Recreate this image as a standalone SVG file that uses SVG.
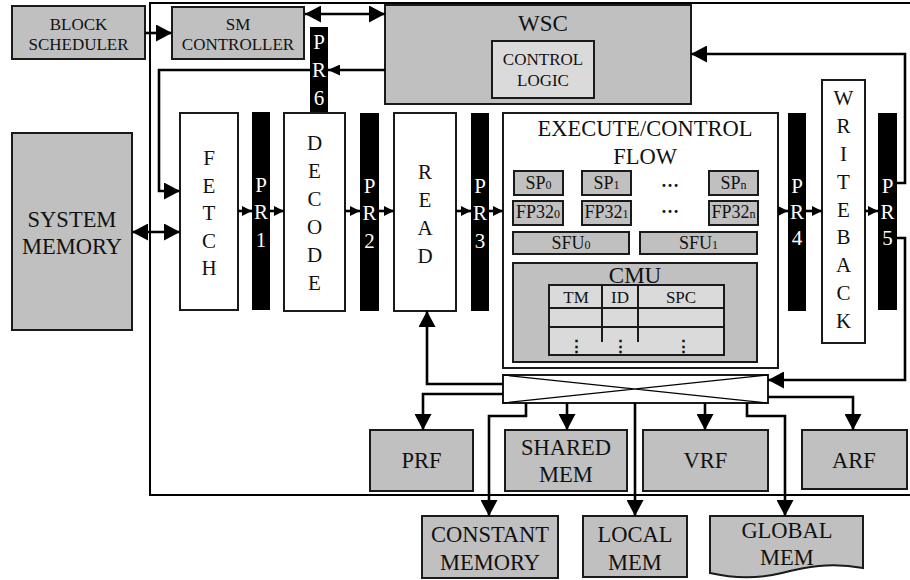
<svg xmlns="http://www.w3.org/2000/svg" width="910" height="580" viewBox="0 0 910 580" font-family="'Liberation Serif', 'DejaVu Serif', 'Noto Serif', serif">
<style>
.g{fill:#c0c0c0;stroke:#1a1a1a;stroke-width:2}
.w{fill:#fff;stroke:#1a1a1a;stroke-width:2}
.l{fill:#dadada;stroke:#1a1a1a;stroke-width:2}
.pr{fill:#000}
text{fill:#111;text-anchor:middle}
.t17{font-size:17px}
.t18{font-size:18px}
.t22{font-size:22.5px}
.v{font-size:21px}
.pw{font-size:21px;fill:#fff}
.sub{font-size:12px}
.vd{font-size:17px;font-weight:bold}
.c{fill:none;stroke:#000;stroke-width:2.6}
.x{fill:none;stroke:#000;stroke-width:1.2}
</style>
<defs>
<marker id="A" markerUnits="userSpaceOnUse" markerWidth="16" markerHeight="17" refX="16" refY="8.5" orient="auto-start-reverse"><path d="M0,0L16,8.5L0,17z"/></marker>
<marker id="M" markerUnits="userSpaceOnUse" markerWidth="12" markerHeight="11" refX="12" refY="5.5" orient="auto-start-reverse"><path d="M0,0L12,5.5L0,11z"/></marker>
<marker id="S" markerUnits="userSpaceOnUse" markerWidth="10" markerHeight="10" refX="10" refY="5" orient="auto-start-reverse"><path d="M0,0L10,5L0,10z"/></marker>
</defs>

<path id="frame" d="M912,3H150V495H912" fill="none" stroke="#000" stroke-width="2"/>

<g id="block-scheduler"><rect class="g" x="12" y="6" width="133" height="53"/><text class="t17" x="78.5" y="30">BLOCK</text><text class="t17" x="78.5" y="50">SCHEDULER</text></g>
<g id="sm-controller"><rect class="g" x="172" y="7" width="132" height="52"/><text class="t17" x="238" y="30">SM</text><text class="t17" x="238" y="50">CONTROLLER</text></g>
<g id="wsc"><rect class="g" x="385" y="5" width="306" height="99"/><text x="543" y="31" style="font-size:23px">WSC</text>
<g id="control-logic"><rect class="l" x="492" y="41" width="102" height="57"/><text class="t17" x="543" y="65">CONTROL</text><text class="t17" x="543" y="86">LOGIC</text></g></g>
<g id="pr6"><rect class="pr" x="310" y="27" width="18" height="85"/><text class="pw" x="319" y="49">P</text><text class="pw" x="319" y="77">R</text><text class="pw" x="319" y="105">6</text></g>

<g id="system-memory"><rect class="g" x="12" y="133" width="120" height="197"/><text class="t22" x="72" y="227">SYSTEM</text><text class="t22" x="72" y="254">MEMORY</text></g>

<g id="fetch"><rect class="w" x="180" y="113" width="58" height="197"/><text class="v" x="209" y="165">F</text><text class="v" x="209" y="192.5">E</text><text class="v" x="209" y="220">T</text><text class="v" x="209" y="247.5">C</text><text class="v" x="209" y="275">H</text></g>
<g id="pr1"><rect class="pr" x="252" y="112" width="18" height="198"/><text class="pw" x="261" y="192">P</text><text class="pw" x="261" y="219">R</text><text class="pw" x="261" y="247">1</text></g>
<g id="decode"><rect class="w" x="284" y="113" width="61" height="198"/><text class="v" x="314.5" y="150">D</text><text class="v" x="314.5" y="178">E</text><text class="v" x="314.5" y="206">C</text><text class="v" x="314.5" y="234">O</text><text class="v" x="314.5" y="262">D</text><text class="v" x="314.5" y="290">E</text></g>
<g id="pr2"><rect class="pr" x="360" y="113" width="19" height="198"/><text class="pw" x="369.5" y="193">P</text><text class="pw" x="369.5" y="220">R</text><text class="pw" x="369.5" y="248">2</text></g>
<g id="read"><rect class="w" x="394" y="113" width="62" height="198"/><text class="v" x="425" y="179">R</text><text class="v" x="425" y="207">E</text><text class="v" x="425" y="235">A</text><text class="v" x="425" y="263">D</text></g>
<g id="pr3"><rect class="pr" x="471" y="113" width="18" height="198"/><text class="pw" x="480" y="193">P</text><text class="pw" x="480" y="220">R</text><text class="pw" x="480" y="248">3</text></g>

<g id="execute">
<rect class="w" x="503" y="113" width="275" height="255"/>
<text class="t22" x="645" y="136">EXECUTE/CONTROL</text><text class="t22" x="645" y="164">FLOW</text>
<g id="sp0"><rect class="g" x="514" y="171" width="49" height="24"/><text class="t18" x="538.5" y="189">SP<tspan class="sub">0</tspan></text></g>
<g id="sp1"><rect class="g" x="582" y="171" width="49" height="24"/><text class="t18" x="606.5" y="189">SP<tspan class="sub">1</tspan></text></g>
<text class="t18" x="670" y="187" font-weight="bold">…</text>
<g id="spn"><rect class="g" x="709" y="171" width="49" height="24"/><text class="t18" x="733.5" y="189">SP<tspan class="sub">n</tspan></text></g>
<g id="fp320"><rect class="g" x="513" y="201" width="50" height="24"/><text class="t18" x="538" y="218">FP32<tspan class="sub">0</tspan></text></g>
<g id="fp321"><rect class="g" x="582" y="201" width="49" height="24"/><text class="t18" x="606.5" y="218">FP32<tspan class="sub">1</tspan></text></g>
<text class="t18" x="670" y="213" font-weight="bold">…</text>
<g id="fp32n"><rect class="g" x="709" y="201" width="49" height="24"/><text class="t18" x="733.5" y="218">FP32<tspan class="sub">n</tspan></text></g>
<g id="sfu0"><rect class="g" x="513" y="232" width="116" height="22"/><text class="t18" x="571" y="249">SFU<tspan class="sub">0</tspan></text></g>
<g id="sfu1"><rect class="g" x="640" y="232" width="117" height="22"/><text class="t18" x="698.5" y="249">SFU<tspan class="sub">1</tspan></text></g>
<g id="cmu">
<rect class="g" x="513" y="263" width="244" height="99"/>
<text x="635" y="283" style="font-size:23px">CMU</text>
<rect class="l" x="549" y="285" width="175" height="70"/>
<path d="M549,308H724M549,327H724M602,285V342M638,285V342" stroke="#1a1a1a" stroke-width="2" fill="none"/>
<text class="t17" x="576" y="303">TM</text><text class="t17" x="620" y="303">ID</text><text class="t17" x="681" y="303">SPC</text>
<text class="vd" x="576" y="352">⋮</text><text class="vd" x="620" y="352">⋮</text><text class="vd" x="683" y="352">⋮</text>
</g>
</g>

<g id="pr4"><rect class="pr" x="788" y="113" width="18" height="198"/><text class="pw" x="797" y="193">P</text><text class="pw" x="797" y="219">R</text><text class="pw" x="797" y="245">4</text></g>
<g id="writeback"><rect class="w" x="822" y="80" width="43" height="263"/>
<text class="v" x="843.5" y="105">W</text><text class="v" x="843.5" y="133">R</text><text class="v" x="843.5" y="161">I</text><text class="v" x="843.5" y="189">T</text><text class="v" x="843.5" y="217">E</text><text class="v" x="843.5" y="244">B</text><text class="v" x="843.5" y="272">A</text><text class="v" x="843.5" y="300">C</text><text class="v" x="843.5" y="328">K</text></g>
<g id="pr5"><rect class="pr" x="878" y="113" width="19" height="197"/><text class="pw" x="887.5" y="193">P</text><text class="pw" x="887.5" y="219">R</text><text class="pw" x="887.5" y="245">5</text></g>

<g id="crossbar"><rect class="w" x="503" y="375" width="265" height="28"/><path class="x" d="M503,375L768,403M503,403L768,375"/></g>

<g id="prf"><rect class="g" x="370" y="430" width="103" height="61"/><text class="t22" x="421.5" y="468">PRF</text></g>
<g id="shared-mem"><rect class="g" x="505" y="430" width="122" height="61"/><text class="t22" x="566" y="455">SHARED</text><text class="t22" x="566" y="482">MEM</text></g>
<g id="vrf"><rect class="g" x="643" y="430" width="125" height="61"/><text class="t22" x="705.5" y="468">VRF</text></g>
<g id="arf"><rect class="g" x="802" y="430" width="105" height="59"/><text class="t22" x="854" y="468">ARF</text></g>
<g id="constant-memory"><rect class="g" x="422" y="516" width="136" height="62"/><text class="t22" x="490" y="542">CONSTANT</text><text class="t22" x="490" y="570">MEMORY</text></g>
<g id="local-mem"><rect class="g" x="583" y="516" width="104" height="61"/><text class="t22" x="635" y="542">LOCAL</text><text class="t22" x="635" y="570">MEM</text></g>
<g id="global-mem"><path class="g" d="M710,516H863V568C830,562 805,567 782,573C757,579 732,578 710,573Z"/><text class="t22" x="787" y="538">GLOBAL</text><text class="t22" x="787" y="565">MEM</text></g>

<g id="connectors">
<path class="c" d="M145,33H172" marker-end="url(#A)"/>
<path class="c" d="M305,14H385" marker-start="url(#A)" marker-end="url(#A)"/>
<path class="c" d="M385,70H328" marker-end="url(#M)"/>
<path class="c" d="M310,70H159V191H180" marker-end="url(#A)"/>
<path class="c" d="M132,232H180" marker-start="url(#A)" marker-end="url(#A)"/>
<path class="c" d="M238,211H252" marker-end="url(#S)"/>
<path class="c" d="M270,211H284" marker-end="url(#S)"/>
<path class="c" d="M345,211H360" marker-end="url(#S)"/>
<path class="c" d="M379,211H394" marker-end="url(#S)"/>
<path class="c" d="M456,211H471" marker-end="url(#S)"/>
<path class="c" d="M489,211H503" marker-end="url(#S)"/>
<path class="c" d="M778,211H788" marker-end="url(#S)"/>
<path class="c" d="M806,211H822" marker-end="url(#S)"/>
<path class="c" d="M865,211H878" marker-end="url(#S)"/>
<path class="c" d="M897,183H905V54H691" marker-end="url(#A)"/>
<path class="c" d="M897,238H905V380H768" marker-end="url(#A)"/>
<path class="c" d="M503,384H427V311" marker-end="url(#A)"/>
<path class="c" d="M503,394H423V430" marker-end="url(#A)"/>
<path class="c" d="M526,403V416H489V516" marker-end="url(#A)"/>
<path class="c" d="M567,403V430" marker-end="url(#A)"/>
<path class="c" d="M635,403V516" marker-end="url(#A)"/>
<path class="c" d="M705,403V430" marker-end="url(#A)"/>
<path class="c" d="M747,403V416H785V516" marker-end="url(#A)"/>
<path class="c" d="M768,397H853V430" marker-end="url(#A)"/>
</g>
</svg>
